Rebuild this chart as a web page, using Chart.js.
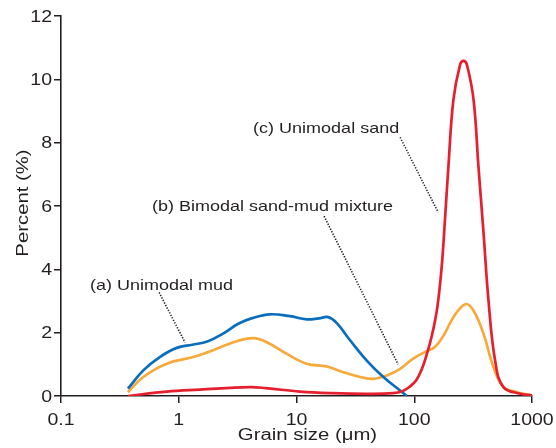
<!DOCTYPE html>
<html>
<head>
<meta charset="utf-8">
<script src="https://cdn.jsdelivr.net/npm/chart.js@4.4.1/dist/chart.umd.min.js"></script>
<style>
  html, body { margin: 0; padding: 0; background: #fff; }
  canvas { display: block; }
</style>
</head>
<body>
<canvas id="grain-chart" width="556" height="448"></canvas>
<script>
var xTicks = [0.1, 1, 10, 100, 1000];
var yTicks = [0, 2, 4, 6, 8, 10, 12];

// grain size (um) and percent
var mudSize = [0.37, 0.5, 0.69, 0.96, 1.3, 1.75, 2.4, 3.2, 4.2, 5.97, 8.8, 12.2, 15.5, 18.6, 22, 28.5, 39.5, 54.7, 75.9, 86.5];
var mudPct  = [0.23, 0.81, 1.23, 1.52, 1.62, 1.72, 1.98, 2.28, 2.46, 2.58, 2.52, 2.42, 2.45, 2.49, 2.3, 1.76, 1.12, 0.6, 0.17, 0];

var mixSize = [0.37, 0.5, 0.79, 1.33, 2.1, 3.11, 4.31, 5.6, 8.28, 12.2, 18.1, 25, 34.7, 45, 58.5, 75.9, 98, 125, 150, 180, 215, 271, 318, 387, 471, 572, 743, 1000];
var mixPct  = [0.12, 0.6, 1.02, 1.23, 1.49, 1.73, 1.83, 1.7, 1.33, 1.02, 0.93, 0.75, 0.6, 0.54, 0.65, 0.86, 1.18, 1.4, 1.55, 1.95, 2.49, 2.9, 2.7, 1.97, 0.91, 0.28, 0.12, 0.02];

var sandSize = [0.37, 0.79, 1.5, 4, 5.5, 10.7, 20, 39.5, 66, 80, 92, 104, 116, 128, 142, 157, 171, 183, 195, 215, 245, 262, 280, 319, 351, 388, 427, 486, 572, 798, 1000];
var sandPct  = [0, 0.14, 0.2, 0.28, 0.25, 0.14, 0.09, 0.07, 0.09, 0.16, 0.3, 0.5, 0.85, 1.33, 1.95, 2.8, 4.08, 5.66, 7.24, 9.35, 10.46, 10.58, 10.46, 9.35, 7.24, 5.13, 3.02, 1.12, 0.28, 0.07, 0.02];

var seriesNames = ['(a) Unimodal mud', '(b) Bimodal sand-mud mixture', '(c) Unimodal sand'];

var ink = '#231f20';

// where the labels and their dotted leaders sit, in axis units
var notes = [
  { text: seriesNames[0], at: [0.176, 3.34], from: [0.681, 3.27], to: [1.131, 1.69] },
  { text: seriesNames[1], at: [0.593, 5.83], from: [17.16, 5.68], to: [72.9, 1.0] },
  { text: seriesNames[2], at: [4.28, 8.29], from: [75.9, 8.17], to: [159.6, 5.8] }
];

function toPoints(xs, ys) {
  return xs.map(function(x, i) { return { x: x, y: ys[i] }; });
}

// the figure uses a wide sans, so stretch the glyphs along the text
function wideText(ctx, str, x, y, size, sx, align, rot) {
  ctx.save();
  ctx.translate(x, y);
  if (rot) ctx.rotate(rot);
  ctx.scale(sx, 1);
  ctx.font = size + 'px "Liberation Sans", Arial, sans-serif';
  ctx.fillStyle = ink;
  ctx.textAlign = align;
  ctx.textBaseline = 'alphabetic';
  ctx.fillText(str, 0, 0);
  ctx.restore();
}

var textPlugin = {
  id: 'texts',
  afterDraw: function(chart) {
    var ctx = chart.ctx;
    var xs = chart.scales.x, ys = chart.scales.y;
    var area = chart.chartArea;

    xTicks.forEach(function(v) {
      wideText(ctx, String(v), xs.getPixelForValue(v), area.bottom + 29, 16, 1.22, 'center');
    });
    yTicks.forEach(function(v) {
      wideText(ctx, String(v), area.left - 9, ys.getPixelForValue(v) + 5.8, 16, 1.22, 'right');
    });

    wideText(ctx, 'Grain size (\u03bcm)', (area.left + area.right) / 2 + 11, area.bottom + 43.5, 16, 1.27, 'center');
    wideText(ctx, 'Percent (%)', 28, (area.top + area.bottom) / 2 - 3, 16, 1.27, 'center', -Math.PI / 2);

    notes.forEach(function(n) {
      wideText(ctx, n.text, xs.getPixelForValue(n.at[0]), ys.getPixelForValue(n.at[1]), 15, 1.2, 'left');
      ctx.save();
      ctx.strokeStyle = ink;
      ctx.lineWidth = 1.6;
      ctx.setLineDash([1.3, 1.5]);
      ctx.beginPath();
      ctx.moveTo(xs.getPixelForValue(n.from[0]), ys.getPixelForValue(n.from[1]));
      ctx.lineTo(xs.getPixelForValue(n.to[0]), ys.getPixelForValue(n.to[1]));
      ctx.stroke();
      ctx.restore();
    });
  }
};

var ctx = document.getElementById('grain-chart').getContext('2d');
new Chart(ctx, {
  type: 'line',
  data: {
    datasets: [{
      label: seriesNames[0],
      data: toPoints(mudSize, mudPct),
      borderColor: '#0a6ebd',
      order: 1
    }, {
      label: seriesNames[1],
      data: toPoints(mixSize, mixPct),
      borderColor: '#f7a93a',
      order: 2
    }, {
      label: seriesNames[2],
      data: toPoints(sandSize, sandPct),
      borderColor: '#e5202e',
      order: 0
    }]
  },
  options: {
    responsive: false,
    animation: false,
    layout: { padding: { left: 0, right: 24, top: 16, bottom: 0 } },
    elements: {
      point: { radius: 0 },
      line: { borderWidth: 2.7, tension: 0.4, fill: false, capBezierPoints: true }
    },
    plugins: {
      legend: { display: false },
      tooltip: { enabled: false }
    },
    scales: {
      x: {
        type: 'logarithmic',
        min: 0.1,
        max: 1000,
        afterBuildTicks: function(scale) {
          scale.ticks = xTicks.map(function(v) { return { value: v }; });
        },
        afterFit: function(scale) { scale.height = 52; },
        ticks: { display: false },
        grid: { drawOnChartArea: false, drawTicks: true, tickLength: 7, color: ink, lineWidth: 1.5 },
        border: { display: true, color: ink, width: 1.6 }
      },
      y: {
        min: 0,
        max: 12,
        afterBuildTicks: function(scale) {
          scale.ticks = yTicks.map(function(v) { return { value: v }; });
        },
        afterFit: function(scale) { scale.width = 61; },
        ticks: { display: false },
        grid: { drawOnChartArea: false, drawTicks: true, tickLength: 7, color: ink, lineWidth: 1.5 },
        border: { display: true, color: ink, width: 1.6 }
      }
    }
  },
  plugins: [textPlugin]
});
</script>
</body>
</html>
